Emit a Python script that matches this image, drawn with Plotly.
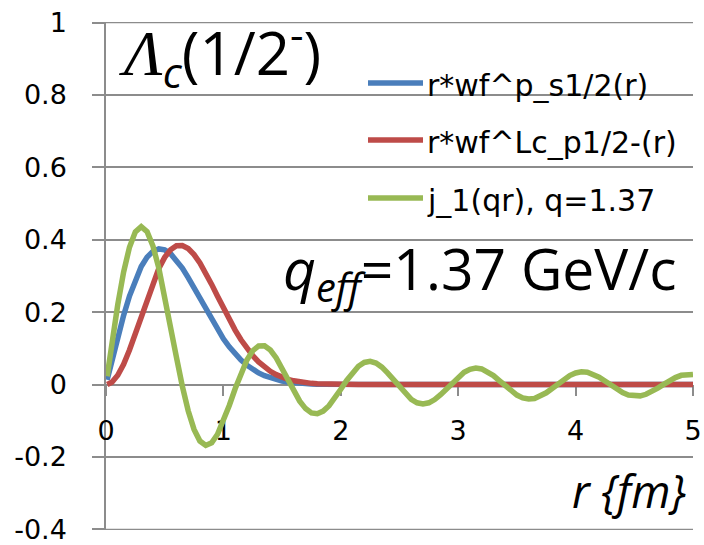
import plotly.graph_objects as go

# radial grid (fm)
r_fm = [0.01, 0.05, 0.10, 0.15, 0.20, 0.25, 0.30, 0.35, 0.40, 0.45, 0.50,
        0.55, 0.60, 0.65, 0.70, 0.75, 0.80, 0.85, 0.90, 0.95, 1.00,
        1.05, 1.10, 1.15, 1.20, 1.25, 1.30, 1.35, 1.40, 1.45, 1.50,
        1.55, 1.60, 1.65, 1.70, 1.75, 1.80, 1.85, 1.90, 1.95, 2.00,
        2.05, 2.10, 2.15, 2.20, 2.25, 2.30, 2.35, 2.40, 2.45, 2.50,
        2.55, 2.60, 2.65, 2.70, 2.75, 2.80, 2.85, 2.90, 2.95, 3.00,
        3.05, 3.10, 3.15, 3.20, 3.25, 3.30, 3.35, 3.40, 3.45, 3.50,
        3.55, 3.60, 3.65, 3.70, 3.75, 3.80, 3.85, 3.90, 3.95, 4.00,
        4.05, 4.10, 4.15, 4.20, 4.25, 4.30, 4.35, 4.40, 4.45, 4.50,
        4.55, 4.60, 4.65, 4.70, 4.75, 4.80, 4.85, 4.90, 4.95, 5.00]

# r * proton s1/2 wave function
wf_p_s12 = [0.0134, 0.0668, 0.1313, 0.1912, 0.2446, 0.2899, 0.3260, 0.3522, 0.3684, 0.3748, 0.3722,
            0.3617, 0.3444, 0.3219, 0.2956, 0.2668, 0.2370, 0.2072, 0.1784, 0.1514, 0.1265,
            0.1043, 0.0847, 0.0679, 0.0537, 0.0419, 0.0322, 0.0245, 0.0183, 0.0136, 0.0099,
            0.0071, 0.0051, 0.0036, 0.0025, 0.0017, 0.0011, 0.0008, 0.0005, 0.0003, 0.0002,
            0, 0, 0, 0, 0, 0, 0, 0, 0, 0,
            0, 0, 0, 0, 0, 0, 0, 0, 0, 0,
            0, 0, 0, 0, 0, 0, 0, 0, 0, 0,
            0, 0, 0, 0, 0, 0, 0, 0, 0, 0,
            0, 0, 0, 0, 0, 0, 0, 0, 0, 0,
            0, 0, 0, 0, 0, 0, 0, 0, 0, 0]

# r * Lambda_c p1/2- wave function
wf_lc_p12 = [0.0003, 0.0066, 0.0258, 0.0562, 0.0956, 0.1411, 0.1895, 0.2376, 0.2823, 0.3209, 0.3515,
             0.3725, 0.3834, 0.3842, 0.3757, 0.3592, 0.3361, 0.3080, 0.2768, 0.2442, 0.2115,
             0.1800, 0.1506, 0.1239, 0.1004, 0.0798, 0.0626, 0.0483, 0.0367, 0.0275, 0.0202,
             0.0147, 0.0105, 0.0074, 0.0052, 0.0035, 0.0024, 0.0016, 0.0010, 0.0007, 0.0004,
             0, 0, 0, 0, 0, 0, 0, 0, 0, 0,
             0, 0, 0, 0, 0, 0, 0, 0, 0, 0,
             0, 0, 0, 0, 0, 0, 0, 0, 0, 0,
             0, 0, 0, 0, 0, 0, 0, 0, 0, 0,
             0, 0, 0, 0, 0, 0, 0, 0, 0, 0,
             0, 0, 0, 0, 0, 0, 0, 0, 0, 0]

# spherical Bessel j_1(qr), q = 1.37
j1_qr = [0.0231, 0.1143, 0.2205, 0.3109, 0.3795, 0.4220, 0.4362, 0.4223, 0.3827, 0.3218, 0.2457,
         0.1612, 0.0756, -0.0042, -0.0721, -0.1236, -0.1559, -0.1680, -0.1608, -0.1372, -0.1011,
         -0.0575, -0.0115, 0.0318, 0.0679, 0.0936, 0.1069, 0.1071, 0.0954, 0.0736, 0.0450,
         0.0132, -0.0182, -0.0456, -0.0662, -0.0780, -0.0803, -0.0732, -0.0581, -0.0371, -0.0129,
         0.0116, 0.0336, 0.0507, 0.0612, 0.0641, 0.0595, 0.0482, 0.0318, 0.0123, -0.0078,
         -0.0262, -0.0409, -0.0502, -0.0534, -0.0502, -0.0413, -0.0279, -0.0117, 0.0053, 0.0212,
         0.0340, 0.0424, 0.0456, 0.0434, 0.0362, 0.0249, 0.0111, -0.0036, -0.0175, -0.0289,
         -0.0366, -0.0398, -0.0383, -0.0323, -0.0226, -0.0106, 0.0024, 0.0147, 0.0251, 0.0322,
         0.0353, 0.0343, 0.0292, 0.0208, 0.0102, -0.0014, -0.0126, -0.0220, -0.0286, -0.0317,
         -0.0310, -0.0267, -0.0193, -0.0098, 0.0007, 0.0108, 0.0195, 0.0257, 0.0287, 0.0283]

series_names = ["r*wf^p_s1/2(r)", "r*wf^Lc_p1/2-(r)", "j_1(qr), q=1.37"]
series_colors = ["#4A7EBB", "#BE4B48", "#98B954"]

y_tick_vals = [-0.4, -0.2, 0, 0.2, 0.4, 0.6, 0.8, 1]
y_tick_text = ["-0.4", "-0.2", "0", "0.2", "0.4", "0.6", "0.8", "1"]
x_tick_vals = [0, 1, 2, 3, 4, 5]
Y_MIN, Y_MAX = -0.4, 1.0
EPS = 0.0015  # keeps the end ticks inside the range

W, H = 704, 545
ML, MR, MT, MB = 106, 11, 22, 15
PW, PH = W - ML - MR, H - MT - MB


def fx(px):
    return (px - ML) / PW


def fy(py):
    return (H - MB - py) / PH


GRID = "#8C8C8C"
TICK_FONT = dict(family="DejaVu Sans", size=27, color="#000000")

fig = go.Figure()
for ys, name, col in zip([wf_p_s12, wf_lc_p12, j1_qr], series_names, series_colors):
    fig.add_trace(go.Scatter(x=r_fm, y=ys, mode="lines", name=name,
                             line=dict(color=col, width=5.5), showlegend=False,
                             hoverinfo="skip"))

# gridlines on the two range ends (plotly skips them at the plot edges)
for yv in (Y_MIN, Y_MAX):
    fig.add_shape(type="line", xref="paper", yref="y", x0=0, x1=1, y0=yv, y1=yv,
                  line=dict(color=GRID, width=1.5), layer="below")

# hand-drawn legend: line sample + label per series
legend_rows = [83, 140, 198]
for name, col, yy in zip(series_names, series_colors, legend_rows):
    fig.add_shape(type="line", xref="paper", yref="paper",
                  x0=fx(368), x1=fx(423), y0=fy(yy), y1=fy(yy),
                  line=dict(color=col, width=5.5))
    fig.add_annotation(xref="paper", yref="paper", x=fx(425), y=fy(yy + 2),
                       xanchor="left", yanchor="middle", showarrow=False,
                       text=name, font=dict(family="DejaVu Sans", size=30, color="#000"))

fig.add_annotation(
    xref="paper", yref="paper", x=fx(117), y=fy(52), xanchor="left", yanchor="middle",
    showarrow=False,
    text="<span style='font-family:Liberation Serif;font-size:64px'><i>Λ</i></span>"
         "<sub><i>c</i></sub>(1/2<sup>-</sup>)",
    font=dict(family="Open Sans", size=60, color="#000"))

fig.add_annotation(
    xref="paper", yref="paper", x=fx(281), y=fy(271), xanchor="left", yanchor="middle",
    showarrow=False,
    text="<i>q</i><sub><i>eff</i></sub>=1.37 GeV/c",
    font=dict(family="Open Sans", size=57, color="#000"))

fig.add_annotation(
    xref="paper", yref="paper", x=fx(688), y=fy(490), xanchor="right", yanchor="middle",
    showarrow=False, text="<i>r {fm}</i>",
    font=dict(family="Open Sans", size=45, color="#000"))

span = Y_MAX - Y_MIN + 2 * EPS
fig.update_layout(
    width=W, height=H,
    margin=dict(l=ML, r=MR, t=MT, b=MB, pad=0, autoexpand=False),
    paper_bgcolor="white", plot_bgcolor="white",
    xaxis=dict(range=[0, 5], tickvals=x_tick_vals, showgrid=False, zeroline=False,
               anchor="free", position=(0 - Y_MIN + EPS) / span, showline=True,
               linecolor=GRID, linewidth=1.5, ticks="outside", ticklen=11, tickwidth=1.5,
               tickcolor=GRID, tickfont=TICK_FONT, ticklabelstandoff=11,
               layer="below traces", automargin=False),
    yaxis=dict(range=[Y_MIN - EPS, Y_MAX + EPS], tickvals=y_tick_vals, ticktext=y_tick_text,
               showgrid=True, gridcolor=GRID, gridwidth=1.5, zeroline=False,
               showline=True, linecolor=GRID, linewidth=1.5, ticks="outside",
               ticklen=12, tickwidth=1.5, tickcolor=GRID, tickfont=TICK_FONT,
               ticklabelstandoff=20, layer="below traces", automargin=False),
)

fig.write_html("out.html")
